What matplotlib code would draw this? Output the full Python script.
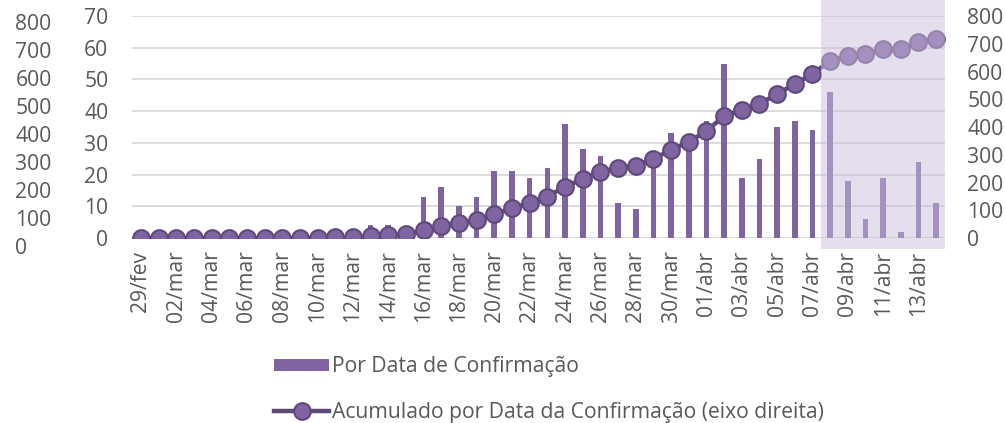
import matplotlib.pyplot as plt
from matplotlib.patches import Patch
from matplotlib.lines import Line2D
import numpy as np

plt.rcParams["font.family"] = ["Open Sans", "DejaVu Sans"]

# datas: 29/fev até 14/abr
datas = ["29/fev"] + [f"{d:02d}/mar" for d in range(1, 32)] + [f"{d:02d}/abr" for d in range(1, 15)]

# casos por data de confirmação (eixo esquerdo)
por_data = [0, 0, 0, 0, 0, 0, 0, 0, 0, 0,
            1, 1, 1, 4, 4, 2,
            13, 16, 10, 13, 21, 21, 19, 22, 36, 28, 26, 11, 9, 26, 33, 31,
            37, 55, 19, 25, 35, 37, 34, 46, 18, 6, 19, 2, 24, 11]

# acumulado (eixo direito)
acumulado = [0, 0, 0, 0, 0, 0, 0, 0, 0, 0,
             1, 2, 3, 7, 11, 13,
             28, 43, 53, 65, 85, 107, 127, 149, 185, 213, 239, 251, 261, 286, 317, 347,
             385, 440, 461, 483, 519, 555, 591, 638, 656, 663, 680, 681, 708, 717]

esq_ticks = list(range(0, 71, 10))
dir_ticks = list(range(0, 801, 100))
inicio_sombra = 38.5  # entre 07/abr e 08/abr

cor_barra = "#8064A2"
cor_linha = "#5F497A"
cor_texto = "#595959"
cor_grade = "#D9D9D9"
fs = 15.2

fig = plt.figure(figsize=(10.05, 4.23), dpi=100)
ax = fig.add_axes([132 / 1005, 1 - 238 / 423, (945 - 132) / 1005, 222 / 423])
x = np.arange(len(datas))

ax.bar(x, por_data, width=0.32, color=cor_barra, zorder=2)
ax.set_xlim(-0.5, len(datas) - 0.5)
ax.set_ylim(0, 70)
ax.set_yticks(esq_ticks)
ax.yaxis.grid(True, color=cor_grade, linewidth=1.3)
ax.set_axisbelow(True)
for s in ax.spines.values():
    s.set_visible(False)
ax.tick_params(axis="y", length=0, pad=17, labelsize=fs, labelcolor=cor_texto)
ax.set_xticks(x[::2])
ax.set_xticklabels(datas[::2], rotation=90, fontsize=fs, color=cor_texto)
ax.tick_params(axis="x", length=0, pad=9)

ax2 = ax.twinx()
ax2.plot(x, acumulado, color=cor_linha, linewidth=3.2, marker="o", markersize=12,
         markerfacecolor=cor_barra, markeredgecolor=cor_linha, markeredgewidth=1.5, zorder=3)
ax2.set_ylim(0, 800)
ax2.set_yticks(dir_ticks)
for s in ax2.spines.values():
    s.set_visible(False)
ax2.tick_params(axis="y", length=0, pad=16, labelsize=fs, labelcolor=cor_texto)

# sombra sobre os últimos dias
ax2.axvspan(inicio_sombra, len(datas) - 0.5, ymin=-0.05, ymax=1.075, clip_on=False,
            color="#CBBEDD", alpha=0.5, linewidth=0, zorder=10)

# escala extra à esquerda
ax3 = fig.add_axes([6 / 1005, 1 - 246 / 423, 0.001, 224 / 423])
ax3.set_ylim(0, 800)
ax3.set_yticks(dir_ticks)
ax3.set_xticks([])
ax3.yaxis.tick_right()
ax3.patch.set_visible(False)
for s in ax3.spines.values():
    s.set_visible(False)
ax3.tick_params(axis="y", length=0, pad=6, labelsize=fs, labelcolor=cor_texto)

handles = [
    Patch(facecolor=cor_barra, edgecolor="none"),
    Line2D([0], [0], color=cor_linha, linewidth=3.2, marker="o", markersize=12,
           markerfacecolor=cor_barra, markeredgecolor=cor_linha, markeredgewidth=1.5),
]
labels = ["Por Data de Confirmação", "Acumulado por Data da Confirmação (eixo direita)"]
leg = fig.legend(handles, labels, loc="upper left", bbox_to_anchor=(266 / 1005, 1 - 348 / 423),
                 frameon=False, fontsize=fs, handlelength=2.6, handleheight=0.55,
                 handletextpad=0.15, labelspacing=1.16, numpoints=1, borderaxespad=0)
for t in leg.get_texts():
    t.set_color(cor_texto)

fig.savefig("out.png", dpi=100)
